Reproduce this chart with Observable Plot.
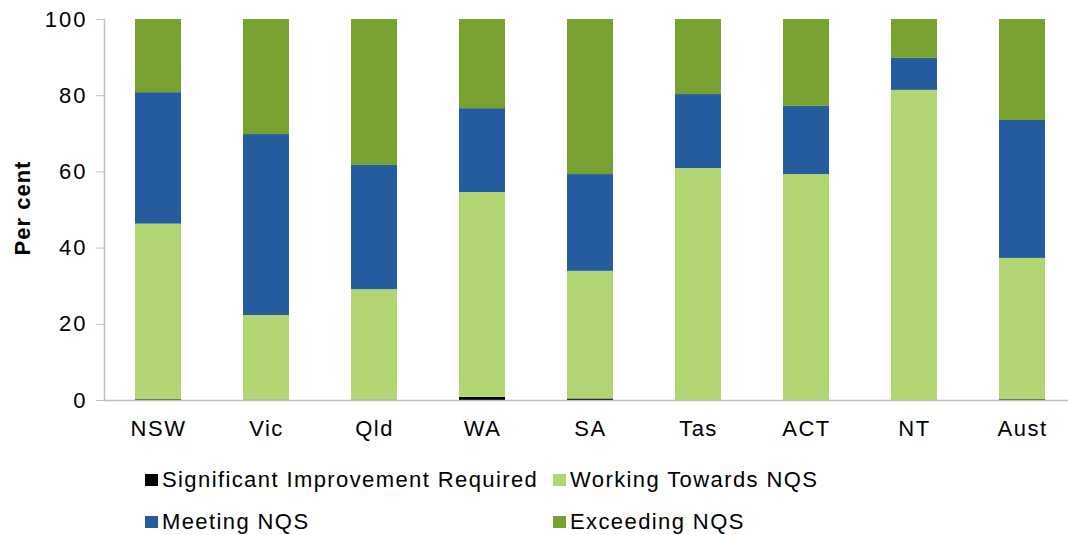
<!DOCTYPE html>
<html>
<head>
<meta charset="utf-8">
<script src="https://cdn.jsdelivr.net/npm/d3@7"></script>
<script src="https://cdn.jsdelivr.net/npm/@observablehq/plot@0.6"></script>
<style>
  body { margin: 0; background: #fff; font-family: "Liberation Sans", Arial, sans-serif; }
  #chart svg { overflow: visible; }
  #chart g[aria-label="y-axis tick label"] text { letter-spacing: 2px; }
  #chart g[aria-label="x-axis tick label"] text { letter-spacing: 1.5px; }
  #chart g[aria-label="text"] text { letter-spacing: 1px; }
  #legend { display: grid; grid-template-columns: 408px auto; padding-left: 145px; padding-top: 9px; }
  .item { height: 42px; line-height: 42px; font-size: 22px; letter-spacing: 1.4px; color: #000; display: flex; align-items: center; white-space: nowrap; }
  .sw { width: 13px; height: 12px; margin-right: 4px; flex: none; }
</style>
</head>
<body>
<div id="chart"></div>
<div id="legend"></div>
<script>
const states = ["NSW", "Vic", "Qld", "WA", "SA", "Tas", "ACT", "NT", "Aust"];
const seriesNames = ["Significant Improvement Required", "Working Towards NQS", "Meeting NQS", "Exceeding NQS"];
const seriesColors = ["#000000", "#b3d675", "#255c9e", "#78a230"];
const significant = [0.2, 0.1, 0.1, 0.8, 0.4, 0.0, 0.0, 0.0, 0.2];
const working     = [46.1, 22.2, 29.0, 53.8, 33.5, 60.9, 59.3, 81.4, 37.1];
const meeting     = [34.5, 47.5, 32.6, 22.0, 25.4, 19.4, 17.9, 8.4, 36.2];
const exceeding   = [19.2, 30.2, 38.3, 23.4, 40.7, 19.7, 22.8, 10.2, 26.5];
const yTicks = [0, 20, 40, 60, 80, 100];

const seriesValues = [significant, working, meeting, exceeding];
const data = [];
seriesNames.forEach((s, si) => {
  states.forEach((st, i) => data.push({state: st, series: s, value: seriesValues[si][i]}));
});

const chart = Plot.plot({
  width: 1068,
  height: 450,
  marginTop: 19,
  marginBottom: 50,
  marginLeft: 104,
  marginRight: 0,
  style: {fontFamily: "Liberation Sans, Arial, sans-serif", fontSize: "22px", color: "#000", overflow: "visible"},
  x: {domain: states, range: [104, 1076], paddingInner: 0.574, paddingOuter: 0.287},
  y: {domain: [0, 100]},
  color: {domain: seriesNames, range: seriesColors},
  marks: [
    Plot.barY(data, Plot.stackY({order: seriesNames}, {x: "state", y: "value", fill: "series"})),
    Plot.ruleY([0], {stroke: "#bfbfbf", strokeWidth: 1.5}),
    Plot.frame({anchor: "left", stroke: "#bfbfbf", strokeWidth: 1.5}),
    Plot.axisY({ticks: yTicks, tickSize: 8, tickPadding: 9, stroke: "#bfbfbf", strokeOpacity: 1, label: null, fontSize: 22}),
    Plot.axisX({tickSize: 0, tickPadding: 20, label: null, fontSize: 22}),
    Plot.text(["Per cent"], {frameAnchor: "left", textAnchor: "middle", dx: -82, dy: -2, rotate: -90, fontWeight: "bold", fontSize: 22, fill: "#000"})
  ]
});
document.getElementById("chart").appendChild(chart);

const legend = document.getElementById("legend");
seriesNames.forEach((s, i) => {
  const d = document.createElement("div");
  d.className = "item";
  const sw = document.createElement("span");
  sw.className = "sw";
  sw.style.background = seriesColors[i];
  d.appendChild(sw);
  d.appendChild(document.createTextNode(s));
  legend.appendChild(d);
});
</script>
</body>
</html>
